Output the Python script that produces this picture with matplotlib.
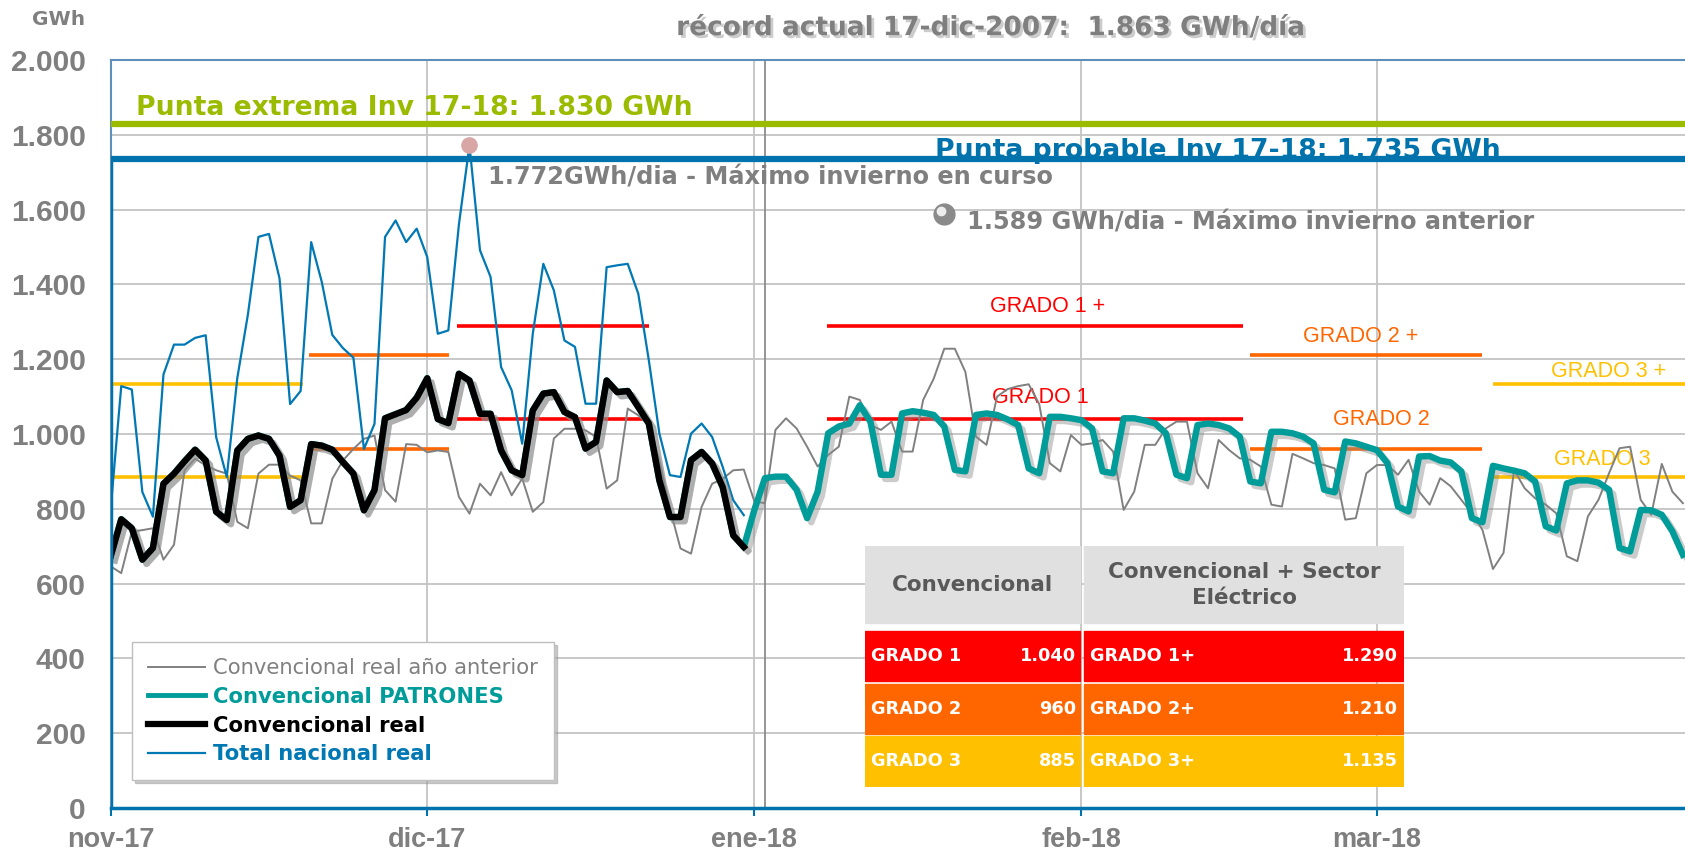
import numpy as np
import pandas as pd
import matplotlib

matplotlib.use("Agg")
import matplotlib.pyplot as plt
from matplotlib import patheffects as pe
from matplotlib.lines import Line2D
from matplotlib.patches import Rectangle
from matplotlib.transforms import ScaledTranslation

plt.rcParams['font.family'] = ['DejaVu Sans']

# ---- datos (GWh/día), desde el 1-nov-2017 ----
fecha_inicio = '2017-11-01'

# convencional real año anterior (nov-17 .. mar-18)
conv_anterior = [646, 628, 739, 743, 748, 664, 704, 903, 934, 916,
                 903, 894, 765, 748, 894, 918, 918, 889, 876, 761,
                 761, 880, 929, 960, 987, 996, 850, 819, 973, 971,
                 951, 956, 952, 832, 787, 867, 836, 898, 836, 881,
                 792, 818, 988, 1014, 1014, 1010, 992, 854, 876, 1068,
                 1050, 1023, 930, 800, 694, 680, 805, 867, 880, 903,
                 905, 820, 815, 1011, 1042, 1015, 966, 913, 944, 966,
                 1100, 1091, 1024, 1011, 1033, 953, 953, 1091, 1148, 1228,
                 1228, 1166, 993, 971, 1100, 1120, 1128, 1133, 1080, 922,
                 900, 997, 971, 975, 984, 953, 797, 846, 971, 971,
                 1015, 1033, 1033, 895, 855, 984, 957, 935, 931, 913,
                 811, 806, 947, 935, 922, 917, 908, 771, 775, 895,
                 917, 917, 891, 931, 846, 811, 882, 860, 824, 788,
                 744, 639, 682, 904, 855, 828, 811, 788, 673, 660,
                 780, 824, 895, 962, 966, 824, 784, 920, 846, 815]

# convencional real (nov-17 .. dic-17)
conv_real = [673, 772, 748, 664, 695, 867, 894, 927, 958, 929,
             792, 770, 956, 987, 996, 987, 942, 805, 823, 973,
             969, 958, 925, 894, 796, 850, 1042, 1053, 1064, 1097,
             1149, 1040, 1029, 1161, 1143, 1054, 1054, 956, 903, 890,
             1063, 1108, 1112, 1059, 1045, 961, 979, 1143, 1112, 1115,
             1072, 1028, 876, 778, 778, 930, 952, 921, 858, 729,
             698]

# convencional PATRONES (bajo la real hasta fin de dic-17)
conv_patrones = conv_real + [
    797, 882, 886, 886, 851, 775, 846, 1002, 1020,
    1028, 1077, 1033, 891, 891, 1055, 1061, 1057, 1051, 1020,
    904, 900, 1051, 1055, 1051, 1039, 1024, 908, 895, 1046,
    1046, 1042, 1037, 1015, 900, 895, 1042, 1042, 1036, 1028,
    1002, 891, 882, 1024, 1028, 1024, 1015, 993, 873, 868,
    1006, 1006, 1002, 993, 975, 851, 844, 980, 975, 966,
    957, 922, 806, 793, 940, 941, 929, 924, 900, 775,
    764, 915, 908, 902, 895, 873, 753, 742, 868, 876,
    876, 870, 851, 695, 686, 797, 796, 784, 740, 677]

# total nacional real (nov-17 .. dic-17)
total_nacional = [801, 1128, 1119, 845, 779, 1159, 1239, 1239, 1257, 1264,
                  991, 885, 1150, 1319, 1527, 1535, 1416, 1080, 1115, 1513,
                  1407, 1265, 1230, 1204, 960, 1027, 1527, 1571, 1513, 1549,
                  1473, 1268, 1277, 1560, 1772, 1491, 1420, 1179, 1117, 974,
                  1268, 1455, 1384, 1250, 1233, 1081, 1081, 1446, 1451, 1455,
                  1375, 1197, 1001, 890, 885, 1001, 1028, 992, 912, 823,
                  783]

# niveles de alerta
grados = ['GRADO 1', 'GRADO 2', 'GRADO 3']
nivel_conv = [1040, 960, 885]
nivel_conv_sector = [1290, 1210, 1135]
colores_grado = ['#FF0000', '#FF6600', '#FFC000']

# tramos en que aplica cada grado (días desde 1-nov)
tramo_ini = [0.0, 18.8, 32.8, 67.9, 108.0, 131.0]
tramo_fin = [18.2, 32.1, 51.0, 107.3, 130.0, 149.2]
tramo_grado = [2, 1, 0, 0, 1, 2]

punta_extrema = 1830
punta_probable = 1735
max_actual = 1772
dia_max_actual = 34
max_anterior = 1589
dia_max_anterior = 79
dia_corte = 62

fechas = pd.date_range(fecha_inicio, periods=len(conv_anterior), freq='D')
dias = np.arange(len(fechas))
meses_es = {1: 'ene', 2: 'feb', 3: 'mar', 11: 'nov', 12: 'dic'}
pos_mes = dias[fechas.day == 1]
etq_mes = [f"{meses_es[fechas[i].month]}-{fechas[i].year % 100}" for i in pos_mes]


def miles(v):
    return f"{v:,}".replace(',', '.')


GRIS = '#7F7F7F'
TEAL = '#009C99'
AZUL = '#0078B4'
AZUL_PUNTA = '#0072AC'
VERDE = '#9BBB00'
fuente_ejes = ['Liberation Sans', 'DejaVu Sans']

fig = plt.figure(figsize=(16.85, 8.52), dpi=100)
ax = fig.add_axes([110.7 / 1685, 1 - 808 / 852, 1 - 110.7 / 1685, 748 / 852])
ax.set_xlim(0, 149.2)
ax.set_ylim(0, 2000)

# rejilla
yt = list(range(0, 2001, 200))
ax.set_yticks(yt, [miles(v) for v in yt], fontsize=21.5, fontweight='bold',
              color=GRIS, family=fuente_ejes)
ax.set_xticks(pos_mes, etq_mes, fontsize=19.5, fontweight='bold',
              color=GRIS, family=fuente_ejes)
ax.tick_params(axis='y', length=0, pad=18)
ax.tick_params(axis='x', length=6, width=1.5, color=AZUL_PUNTA, pad=8)
ax.grid(True, color='#C4C4C4', lw=1.3, zorder=0)
ax.set_axisbelow(True)
ax.axvline(dia_corte, color='#8C8C8C', lw=1.3, zorder=1)

ax.spines['right'].set_visible(False)
ax.spines['top'].set_color('#5E8FBB')
ax.spines['top'].set_linewidth(1.5)
ax.spines['left'].set_color('#5E8FBB')
ax.spines['left'].set_linewidth(1.5)
ax.spines['bottom'].set_color(AZUL_PUNTA)
ax.spines['bottom'].set_linewidth(2.5)

# tramos de grados
for i0, i1, g in zip(tramo_ini, tramo_fin, tramo_grado):
    ax.hlines([nivel_conv[g], nivel_conv_sector[g]], i0, i1,
              colors=colores_grado[g], lw=2.6, zorder=2)

etiquetas = [('GRADO 1 +', 88.8, 1342, 0), ('GRADO 1', 88.1, 1098, 0),
             ('GRADO 2 +', 118.5, 1261, 1), ('GRADO 2', 120.4, 1040, 1),
             ('GRADO 3 +', 142.0, 1167, 2), ('GRADO 3', 141.4, 931, 2)]
for txt, xx, yy, g in etiquetas:
    ax.text(xx, yy, txt, ha='center', va='center', fontsize=15.5,
            color=colores_grado[g], family=['Liberation Sans', 'DejaVu Sans'], zorder=3)

sombra = [pe.SimpleLineShadow(offset=(3, -3), shadow_color='0.55', alpha=0.45), pe.Normal()]

ax.plot(dias, conv_anterior, color='#808080', lw=1.4, zorder=3)
ax.plot(dias[:len(total_nacional)], total_nacional, color=AZUL, lw=1.6, zorder=4)
ax.plot(dias, conv_patrones, color=TEAL, lw=4.6, zorder=5,
        solid_joinstyle='round', path_effects=sombra)
ax.plot(dias[:len(conv_real)], conv_real, color='black', lw=4.6, zorder=6,
        solid_joinstyle='round', path_effects=sombra)

# puntas
ax.axhline(punta_extrema, color=VERDE, lw=4.5, zorder=7)
ax.axhline(punta_probable, color=AZUL_PUNTA, lw=4.5, zorder=7)
ax.vlines(0, 0, punta_probable, colors=AZUL_PUNTA, lw=2.5, zorder=7)
ax.text(2.4, punta_extrema + 22, f'Punta extrema Inv 17-18: {miles(punta_extrema)} GWh',
        fontsize=19.2, fontweight='bold', color=VERDE, va='baseline', zorder=8)
ax.text(78.1, punta_probable + 4, f'Punta probable Inv 17-18: {miles(punta_probable)} GWh',
        fontsize=19.2, fontweight='bold', color=AZUL_PUNTA, va='baseline', zorder=6.5)

# máximos
ax.plot(dia_max_actual, max_actual, 'o', ms=11, color='#D9A6A6', zorder=9)
ax.text(35.8, 1687, f'{miles(max_actual)}GWh/dia - Máximo invierno en curso',
        fontsize=17.3, fontweight='bold', color=GRIS, va='center', zorder=9)
ax.plot(dia_max_anterior, max_anterior, 'o', ms=15, color='#8A8A8A', zorder=9)
ax.plot(dia_max_anterior, max_anterior, 'o', ms=6, color='#EDEDED', zorder=10,
        transform=ax.transData + ScaledTranslation(-2 / 72, 2 / 72, fig.dpi_scale_trans))
ax.text(81.2, 1566, f'{miles(max_anterior)} GWh/dia - Máximo invierno anterior',
        fontsize=17.3, fontweight='bold', color=GRIS, va='center', zorder=9)

# leyenda
handles = [Line2D([], [], color='#808080', lw=1.4),
           Line2D([], [], color=TEAL, lw=3.5),
           Line2D([], [], color='black', lw=4.5),
           Line2D([], [], color=AZUL, lw=1.6)]
nombres = ['Convencional real año anterior', 'Convencional PATRONES',
           'Convencional real', 'Total nacional real']
leg = ax.legend(handles, nombres, loc='lower left', bbox_to_anchor=(0.0135, 0.037),
                borderaxespad=0, fontsize=15.2, handlelength=2.7, handletextpad=0.4,
                labelspacing=0.42, borderpad=0.75, fancybox=False, framealpha=1,
                edgecolor='#BFBFBF', shadow={'color': '0.6', 'alpha': 0.5})
leg.set_zorder(20)
for t, c, w in zip(leg.get_texts(), ['#808080', TEAL, 'black', AZUL],
                   ['normal', 'bold', 'bold', 'bold']):
    t.set_color(c)
    t.set_fontweight(w)

# tabla de grados
tx = fig.add_axes([865 / 1685, 1 - 787 / 852, 539 / 1685, 241 / 852])
tx.set_xlim(0, 539)
tx.set_ylim(241, 0)
tx.axis('off')
tx.add_patch(Rectangle((0, 0), 215, 77, color='#E0E0E0'))
tx.add_patch(Rectangle((219, 0), 320, 77, color='#E0E0E0'))
tx.text(107, 39, 'Convencional', ha='center', va='center', fontsize=15.5,
        fontweight='bold', color='#595959')
tx.text(379, 39, 'Convencional + Sector\nEléctrico', ha='center', va='center',
        fontsize=15.5, fontweight='bold', color='#595959', linespacing=1.4)
filas_y = [85, 138, 190]
for i, g in enumerate(grados):
    y0 = filas_y[i]
    tx.add_patch(Rectangle((0, y0), 215, 50, color=colores_grado[i]))
    tx.add_patch(Rectangle((219, y0), 320, 50, color=colores_grado[i]))
    kw = dict(va='center', fontsize=12.8, fontweight='bold', color='white')
    tx.text(6, y0 + 25, g, ha='left', **kw)
    tx.text(211, y0 + 25, miles(nivel_conv[i]), ha='right', **kw)
    tx.text(225, y0 + 25, g + '+', ha='left', **kw)
    tx.text(533, y0 + 25, miles(nivel_conv_sector[i]), ha='right', **kw)

# títulos
fig.text(0.035, 0.977, 'GWh', ha='center', va='center', fontsize=14.5,
         fontweight='bold', color=GRIS)
fig.text(0.588, 0.967, 'récord actual 17-dic-2007:  1.863 GWh/día', ha='center',
         va='center', fontsize=19, fontweight='bold', color=GRIS,
         path_effects=[pe.SimplePatchShadow(offset=(2, -2), shadow_rgbFace='0.5', alpha=0.4),
                       pe.Normal()])

fig.savefig('out.png', dpi=100)
